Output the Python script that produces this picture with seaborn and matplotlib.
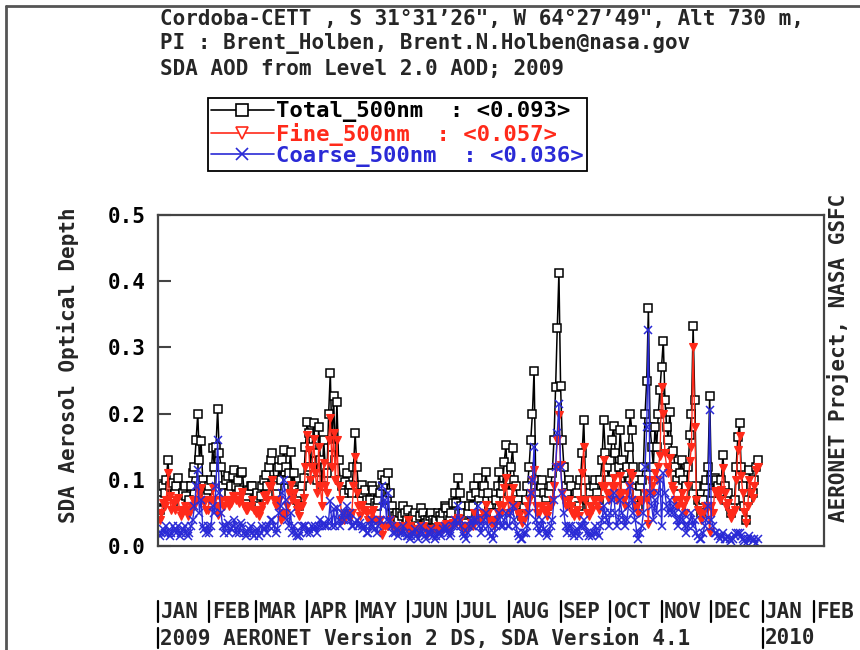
import numpy as np
import pandas as pd
import matplotlib
matplotlib.use("Agg")
import matplotlib.pyplot as plt
import matplotlib.transforms as mtransforms
from matplotlib.lines import Line2D
import seaborn as sns

# ---------------- data (daily SDA AOD at 500 nm, 2009; day 1 = Jan 2) ----------------
total = [
    # Jan
    0.055, 0.07, 0.09, 0.08, 0.10, 0.13, 0.09, 0.075, 0.095, 0.08, 0.09, 0.103, 0.07, 0.065, 0.08,
    0.09, 0.075, 0.06, 0.07, 0.09, 0.11, 0.12, 0.16, 0.20, 0.13, 0.158, 0.10, 0.09, 0.075, 0.085,
    # Feb
    0.09, 0.10, 0.148, 0.12, 0.15, 0.207, 0.14, 0.12, 0.09, 0.08, 0.10, 0.105, 0.08, 0.09,
    0.105, 0.115, 0.09, 0.10, 0.085, 0.11, 0.112, 0.08, 0.07, 0.075, 0.085, 0.09, 0.09, 0.07,
    # Mar
    0.07, 0.08, 0.06, 0.075, 0.09, 0.10, 0.107, 0.09, 0.12, 0.13, 0.141, 0.10, 0.08, 0.09, 0.12,
    0.10, 0.13, 0.145, 0.12, 0.10, 0.11, 0.142, 0.09, 0.11, 0.085, 0.07, 0.06, 0.08, 0.09, 0.103, 0.15,
    # Apr
    0.188, 0.17, 0.12, 0.15, 0.186, 0.14, 0.10, 0.18, 0.13, 0.09, 0.16, 0.12, 0.11, 0.20, 0.262,
    0.15, 0.226, 0.13, 0.217, 0.13, 0.10, 0.09, 0.08, 0.097, 0.11, 0.085, 0.092, 0.08, 0.12, 0.17,
    # May
    0.12, 0.09, 0.08, 0.092, 0.08, 0.085, 0.07, 0.06, 0.07, 0.09, 0.085, 0.065, 0.06, 0.07, 0.08,
    0.107, 0.09, 0.10, 0.07, 0.11, 0.08, 0.06, 0.05, 0.045, 0.05, 0.04, 0.05, 0.045, 0.06, 0.05, 0.04,
    # Jun
    0.055, 0.04, 0.035, 0.045, 0.05, 0.04, 0.03, 0.045, 0.058, 0.05, 0.04, 0.035, 0.04, 0.045, 0.05,
    0.04, 0.035, 0.04, 0.05, 0.045, 0.04, 0.05, 0.06, 0.058, 0.045, 0.04, 0.05, 0.065, 0.08, 0.065,
    # Jul
    0.103, 0.08, 0.06, 0.05, 0.04, 0.035, 0.05, 0.06, 0.075, 0.06, 0.09, 0.08, 0.103, 0.07, 0.06,
    0.08, 0.09, 0.112, 0.08, 0.06, 0.05, 0.045, 0.05, 0.07, 0.09, 0.112, 0.08, 0.09, 0.127, 0.153, 0.10,
    # Aug
    0.08, 0.12, 0.148, 0.10, 0.09, 0.07, 0.06, 0.05, 0.045, 0.06, 0.07, 0.09, 0.12, 0.16, 0.20,
    0.265, 0.10, 0.08, 0.07, 0.09, 0.10, 0.08, 0.07, 0.06, 0.08, 0.09, 0.11, 0.16, 0.24, 0.33, 0.413,
    # Sep
    0.242, 0.16, 0.12, 0.09, 0.08, 0.10, 0.09, 0.07, 0.06, 0.07, 0.08, 0.06, 0.10, 0.14, 0.19,
    0.10, 0.07, 0.06, 0.08, 0.07, 0.09, 0.10, 0.08, 0.07, 0.10, 0.13, 0.19, 0.14, 0.12, 0.10,
    # Oct
    0.13, 0.16, 0.182, 0.14, 0.10, 0.12, 0.175, 0.13, 0.11, 0.09, 0.12, 0.15, 0.20, 0.175, 0.12,
    0.10, 0.08, 0.06, 0.09, 0.10, 0.12, 0.20, 0.25, 0.36, 0.18, 0.15, 0.12, 0.18, 0.15, 0.20, 0.236,
    # Nov
    0.27, 0.31, 0.22, 0.18, 0.16, 0.203, 0.14, 0.144, 0.12, 0.10, 0.09, 0.11, 0.13, 0.10, 0.08,
    0.09, 0.12, 0.168, 0.20, 0.333, 0.22, 0.09, 0.07, 0.06, 0.05, 0.07, 0.09, 0.10, 0.12, 0.226,
    # Dec
    0.10, 0.08, 0.103, 0.10, 0.09, 0.08, 0.10, 0.138, 0.09, 0.07, 0.08, 0.06, 0.05, 0.06, 0.07,
    0.12, 0.165, 0.186, 0.12, 0.09, 0.06, 0.04, 0.07, 0.115, 0.09, 0.08, 0.10, 0.12, 0.13,
]

fine = [
    # Jan
    0.04, 0.05, 0.065, 0.06, 0.07, 0.11, 0.075, 0.055, 0.065, 0.055, 0.07, 0.073, 0.055, 0.045, 0.055,
    0.06, 0.055, 0.045, 0.05, 0.06, 0.07, 0.06, 0.07, 0.085, 0.08, 0.088, 0.07, 0.065, 0.055, 0.055,
    # Feb
    0.07, 0.07, 0.088, 0.07, 0.06, 0.047, 0.06, 0.07, 0.06, 0.06, 0.07, 0.07, 0.06, 0.065,
    0.075, 0.075, 0.07, 0.07, 0.065, 0.075, 0.082, 0.06, 0.055, 0.055, 0.06, 0.06, 0.07, 0.055,
    # Mar
    0.05, 0.055, 0.045, 0.055, 0.06, 0.075, 0.077, 0.07, 0.09, 0.09, 0.10, 0.07, 0.06, 0.065, 0.07,
    0.04, 0.05, 0.045, 0.05, 0.06, 0.08, 0.092, 0.07, 0.08, 0.065, 0.055, 0.045, 0.06, 0.06, 0.073, 0.12,
    # Apr
    0.168, 0.145, 0.10, 0.12, 0.161, 0.11, 0.08, 0.15, 0.09, 0.06, 0.125, 0.09, 0.08, 0.16, 0.194,
    0.12, 0.17, 0.10, 0.16, 0.09, 0.07, 0.04, 0.04, 0.047, 0.05, 0.045, 0.042, 0.05, 0.09, 0.135,
    # May
    0.08, 0.06, 0.045, 0.062, 0.055, 0.055, 0.05, 0.04, 0.04, 0.05, 0.055, 0.04, 0.04, 0.04, 0.04,
    0.017, 0.03, 0.03, 0.03, 0.03, 0.04, 0.03, 0.03, 0.025, 0.025, 0.025, 0.03, 0.025, 0.03, 0.03, 0.025,
    # Jun
    0.04, 0.03, 0.02, 0.025, 0.025, 0.025, 0.02, 0.025, 0.028, 0.03, 0.025, 0.025, 0.02, 0.025, 0.025,
    0.025, 0.025, 0.025, 0.03, 0.025, 0.025, 0.025, 0.03, 0.033, 0.025, 0.025, 0.03, 0.035, 0.04, 0.035,
    # Jul
    0.043, 0.04, 0.03, 0.03, 0.025, 0.025, 0.03, 0.03, 0.035, 0.03, 0.05, 0.04, 0.043, 0.04, 0.04,
    0.05, 0.05, 0.062, 0.05, 0.04, 0.035, 0.035, 0.03, 0.04, 0.05, 0.062, 0.05, 0.06, 0.087, 0.103, 0.07,
    # Aug
    0.05, 0.07, 0.088, 0.06, 0.06, 0.05, 0.045, 0.04, 0.035, 0.04, 0.05, 0.06, 0.07, 0.08, 0.10,
    0.115, 0.06, 0.05, 0.05, 0.06, 0.06, 0.055, 0.05, 0.045, 0.06, 0.06, 0.07, 0.09, 0.12, 0.16, 0.198,
    # Sep
    0.122, 0.08, 0.07, 0.06, 0.06, 0.07, 0.06, 0.05, 0.045, 0.05, 0.055, 0.045, 0.07, 0.11, 0.15,
    0.07, 0.05, 0.045, 0.06, 0.055, 0.07, 0.07, 0.06, 0.055, 0.07, 0.09, 0.13, 0.09, 0.08, 0.07,
    # Oct
    0.08, 0.09, 0.102, 0.09, 0.07, 0.08, 0.105, 0.08, 0.07, 0.06, 0.08, 0.09, 0.11, 0.105, 0.07,
    0.06, 0.06, 0.05, 0.07, 0.07, 0.07, 0.08, 0.07, 0.033, 0.10, 0.09, 0.08, 0.11, 0.10, 0.12, 0.136,
    # Nov
    0.24, 0.20, 0.14, 0.12, 0.11, 0.133, 0.09, 0.084, 0.07, 0.06, 0.06, 0.07, 0.08, 0.06, 0.05,
    0.07, 0.09, 0.128, 0.15, 0.30, 0.18, 0.07, 0.055, 0.05, 0.04, 0.05, 0.06, 0.06, 0.06, 0.021,
    # Dec
    0.06, 0.05, 0.083, 0.08, 0.075, 0.07, 0.085, 0.118, 0.08, 0.06, 0.065, 0.05, 0.042, 0.05, 0.055,
    0.10, 0.145, 0.166, 0.105, 0.08, 0.052, 0.035, 0.06, 0.10, 0.08, 0.072, 0.09, 0.115, 0.12,
]

coarse = [
    # Jan
    0.015, 0.02, 0.025, 0.02, 0.03, 0.02, 0.015, 0.02, 0.03, 0.025, 0.02, 0.03, 0.015, 0.02, 0.025,
    0.03, 0.02, 0.015, 0.02, 0.03, 0.04, 0.06, 0.09, 0.115, 0.05, 0.07, 0.03, 0.025, 0.02, 0.03,
    # Feb
    0.02, 0.03, 0.06, 0.05, 0.09, 0.16, 0.08, 0.05, 0.03, 0.02, 0.03, 0.035, 0.02, 0.025,
    0.03, 0.04, 0.02, 0.03, 0.02, 0.035, 0.03, 0.02, 0.015, 0.02, 0.025, 0.03, 0.02, 0.015,
    # Mar
    0.02, 0.025, 0.015, 0.02, 0.03, 0.025, 0.03, 0.02, 0.03, 0.04, 0.04, 0.03, 0.02, 0.025, 0.05,
    0.06, 0.08, 0.10, 0.07, 0.04, 0.03, 0.05, 0.02, 0.03, 0.02, 0.015, 0.015, 0.02, 0.03, 0.03, 0.03,
    # Apr
    0.02, 0.025, 0.02, 0.03, 0.025, 0.03, 0.02, 0.03, 0.04, 0.03, 0.035, 0.03, 0.03, 0.04, 0.068,
    0.03, 0.056, 0.03, 0.057, 0.04, 0.03, 0.05, 0.04, 0.05, 0.06, 0.04, 0.05, 0.03, 0.03, 0.035,
    # May
    0.04, 0.03, 0.035, 0.03, 0.025, 0.03, 0.02, 0.02, 0.03, 0.04, 0.03, 0.025, 0.02, 0.03, 0.04,
    0.09, 0.06, 0.07, 0.04, 0.08, 0.04, 0.03, 0.02, 0.02, 0.025, 0.015, 0.02, 0.02, 0.03, 0.02, 0.015,
    # Jun
    0.015, 0.01, 0.015, 0.02, 0.025, 0.015, 0.01, 0.02, 0.03, 0.02, 0.015, 0.01, 0.02, 0.02, 0.025,
    0.015, 0.01, 0.015, 0.02, 0.02, 0.015, 0.025, 0.03, 0.025, 0.02, 0.015, 0.02, 0.03, 0.04, 0.03,
    # Jul
    0.06, 0.04, 0.03, 0.02, 0.015, 0.01, 0.02, 0.03, 0.04, 0.03, 0.04, 0.04, 0.06, 0.03, 0.02,
    0.03, 0.04, 0.05, 0.03, 0.02, 0.015, 0.01, 0.02, 0.03, 0.04, 0.05, 0.03, 0.03, 0.04, 0.05, 0.03,
    # Aug
    0.03, 0.05, 0.06, 0.04, 0.03, 0.02, 0.015, 0.01, 0.01, 0.02, 0.02, 0.03, 0.05, 0.08, 0.10,
    0.15, 0.04, 0.03, 0.02, 0.03, 0.04, 0.025, 0.02, 0.015, 0.02, 0.03, 0.04, 0.07, 0.12, 0.17, 0.215,
    # Sep
    0.12, 0.08, 0.05, 0.03, 0.02, 0.03, 0.03, 0.02, 0.015, 0.02, 0.025, 0.015, 0.03, 0.03, 0.04,
    0.03, 0.02, 0.015, 0.02, 0.015, 0.02, 0.03, 0.02, 0.015, 0.03, 0.04, 0.06, 0.05, 0.04, 0.03,
    # Oct
    0.05, 0.07, 0.08, 0.05, 0.03, 0.04, 0.07, 0.05, 0.04, 0.03, 0.04, 0.06, 0.09, 0.07, 0.05,
    0.04, 0.02, 0.01, 0.02, 0.03, 0.05, 0.12, 0.18, 0.327, 0.08, 0.06, 0.04, 0.07, 0.05, 0.08, 0.10,
    # Nov
    0.03, 0.11, 0.08, 0.06, 0.05, 0.07, 0.05, 0.06, 0.05, 0.04, 0.03, 0.04, 0.05, 0.04, 0.03,
    0.02, 0.03, 0.04, 0.05, 0.03, 0.04, 0.02, 0.015, 0.01, 0.01, 0.02, 0.03, 0.04, 0.06, 0.205,
    # Dec
    0.04, 0.03, 0.02, 0.02, 0.015, 0.01, 0.015, 0.02, 0.01, 0.01, 0.015, 0.01, 0.008, 0.01, 0.015,
    0.02, 0.02, 0.02, 0.015, 0.01, 0.008, 0.005, 0.01, 0.015, 0.01, 0.008, 0.01, 0.005, 0.01,
]

series_names = ["Total_500nm", "Fine_500nm", "Coarse_500nm"]
series_means = ["0.093", "0.057", "0.036"]
month_labels = ["JAN", "FEB", "MAR", "APR", "MAY", "JUN", "JUL", "AUG",
                "SEP", "OCT", "NOV", "DEC", "JAN", "FEB"]
year_labels = ["2009 AERONET Version 2 DS, SDA Version 4.1", "2010"]
title_lines = [
    "Cordoba-CETT , S 31\u00b031\u201926\", W 64\u00b027\u201949\", Alt 730 m,",
    "PI : Brent_Holben, Brent.N.Holben@nasa.gov",
    "SDA AOD from Level 2.0 AOD; 2009",
]
y_label = "SDA Aerosol Optical Depth"
right_label = "AERONET Project, NASA GSFC"

# ---------------- figure ----------------
sns.set_theme(style="white")
plt.rcParams["font.family"] = ["DejaVu Sans Mono", "DejaVu Sans"]
plt.rcParams["font.weight"] = "bold"
FS = 15
FS_LEG = 16

W, H = 860, 650
fig = plt.figure(figsize=(W / 100, H / 100), dpi=100)
ax = fig.add_axes([158 / W, 104 / H, 666 / W, 331 / H])

start = pd.Timestamp("2009-01-01")
def day_index(values):
    return np.arange(1, len(values) + 1)

df_t = pd.DataFrame({"day": day_index(total), "aod": total})
df_f = pd.DataFrame({"day": day_index(fine), "aod": fine})
df_c = pd.DataFrame({"day": day_index(coarse), "aod": coarse})

BLACK, RED, BLUE = "#000000", "#ff2a1a", "#2a2ad6"

sns.lineplot(data=df_t, x="day", y="aod", ax=ax, estimator=None, sort=False,
             color=BLACK, lw=1.1, marker="s", markersize=5.5,
             markerfacecolor="white", markeredgecolor=BLACK, markeredgewidth=1.1)
sns.lineplot(data=df_f, x="day", y="aod", ax=ax, estimator=None, sort=False,
             color=RED, lw=1.0, marker="v", markersize=5.5,
             markerfacecolor=RED, markeredgecolor=RED, markeredgewidth=0.8)
sns.lineplot(data=df_c, x="day", y="aod", ax=ax, estimator=None, sort=False,
             color=BLUE, lw=1.0, marker="x", markersize=5.5,
             markeredgecolor=BLUE, markeredgewidth=1.1)

ax.set_xlim(0, 402)
ax.set_ylim(0, 0.5)
ax.set_xlabel("")
ax.set_ylabel("")
ax.set_xticks([])
yt = np.round(np.arange(0, 0.51, 0.1), 1)
ax.set_yticks(yt)
ax.set_yticklabels([f"{v:.1f}" for v in yt])
ax.tick_params(axis="y", direction="in", length=9.5, width=1.5, pad=9,
               labelsize=FS, color="#444444", labelcolor="black", left=True)
for s in ax.spines.values():
    s.set_color("#444444")
    s.set_linewidth(1.6)

# month axis labels with leading bars
month_starts = (pd.date_range("2009-01-01", "2010-02-01", freq="MS") - start).days
trans = mtransforms.blended_transform_factory(ax.transData, fig.transFigure)
y_month = 1 - 612 / H
y_year = 1 - 638 / H
for d, lab in zip(month_starts, month_labels):
    ax.text(d + 1.5, y_month, lab, transform=trans, ha="left", va="center", fontsize=FS)
    fig.add_artist(Line2D([d, d], [1 - 601 / H, 1 - 622 / H], transform=trans,
                          color="black", lw=1.6))
year_days = [month_starts[0], month_starts[12]]
for d, lab in zip(year_days, year_labels):
    ax.text(d + 1.5, y_year, lab, transform=trans, ha="left", va="center", fontsize=FS)
    fig.add_artist(Line2D([d, d], [1 - 628 / H, 1 - 648 / H], transform=trans,
                          color="black", lw=1.6))

# titles
for i, line in enumerate(title_lines):
    fig.text(160 / W, 1 - (19 + 25 * i) / H, line, ha="left", va="center", fontsize=FS)

fig.text(68 / W, 1 - 365 / H, y_label, rotation=90, ha="center", va="center", fontsize=FS)
fig.text(838 / W, 1 - 358 / H, right_label, rotation=90, ha="center", va="center", fontsize=FS)

# legend
handles = [
    Line2D([], [], color=BLACK, lw=1.2, marker="s", ms=8, mfc="white", mec=BLACK, mew=1.2),
    Line2D([], [], color=RED, lw=1.2, marker="v", ms=8, mfc="white", mec=RED, mew=1.2),
    Line2D([], [], color=BLUE, lw=1.2, marker="x", ms=8, mec=BLUE, mew=1.2),
]
labels = [f"{n}  : <{m}>" for n, m in zip(series_names, series_means)]
leg = fig.legend(handles, labels, loc="upper left", bbox_to_anchor=(208 / W, 1 - 98 / H),
                 frameon=True, fancybox=False, edgecolor="black", framealpha=1,
                 fontsize=FS_LEG, handlelength=2.8, handletextpad=0.1, labelspacing=0.02,
                 borderpad=0.15, borderaxespad=0)
leg.get_frame().set_linewidth(1.3)
for t, c in zip(leg.get_texts(), [BLACK, RED, BLUE]):
    t.set_color(c)

# figure frame (left and top)
fig.add_artist(Line2D([6 / W, 6 / W], [0, 1 - 6 / H], transform=fig.transFigure,
                      color="#555555", lw=2))
fig.add_artist(Line2D([6 / W, 1], [1 - 6 / H, 1 - 6 / H], transform=fig.transFigure,
                      color="#555555", lw=2))

fig.savefig("out.png", dpi=100)
